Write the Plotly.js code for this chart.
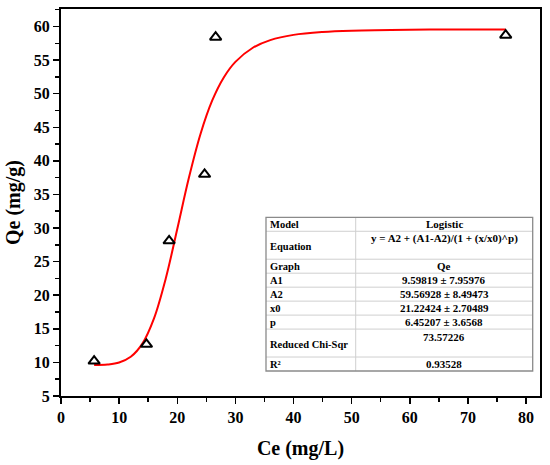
<!DOCTYPE html>
<html>
<head>
<meta charset="utf-8">
<script src="https://cdn.plot.ly/plotly-3.0.1.min.js"></script>
<style>html,body{margin:0;padding:0;background:#fff;}#chart{width:550px;height:465px;}</style>
</head>
<body>
<div id="chart"></div>
<script>
var ceData = [5.7, 14.7, 18.6, 24.7, 26.6, 76.5];
var qeData = [10.2, 12.7, 28.1, 38.0, 58.4, 58.7];

var ceFit = [5.7, 8, 10, 12, 14, 16, 18, 20, 22, 24, 26, 28, 30, 33, 36, 40, 45, 50, 60, 70, 76.5];
var qeFit = [9.61, 9.69, 9.98, 10.83, 12.79, 16.55, 22.42, 29.85, 37.47, 44.00, 48.95, 52.41, 54.73, 56.83, 57.97, 58.75, 59.18, 59.37, 59.51, 59.55, 59.56];

// Fit table
var tableLabels = ["Model", "Equation", "Graph", "A1", "A2", "x0", "p", "Reduced Chi-Sqr", "R²"];
var tableValues = ["Logistic", "y = A2 + (A1-A2)/(1 + (x/x0)^p)", "Qe", "9.59819 ± 7.95976", "59.56928 ± 8.49473", "21.22424 ± 2.70489", "6.45207 ± 3.6568", "73.57226", "0.93528"];
var rowUnits = [1, 2, 1, 1, 1, 1, 1, 2, 1];

var xTitle = "Ce (mg/L)";
var yTitle = "Qe (mg/g)";

var W = 550, H = 465, ML = 61, MR = 10, MT = 9, MB = 69;
var PW = W - ML - MR, PH = H - MT - MB;
function px(x) { return (x - ML) / PW; }
function py(y) { return (H - MB - y) / PH; }

var serif = "Liberation Serif, Times New Roman, serif";

var shapes = [], annotations = [];
(function buildTable() {
  var tL = 266, tR = 532.7, tT = 217.3, tB = 371, tD = 355.7;
  var totalUnits = rowUnits.reduce(function(a, b) { return a + b; }, 0);
  var unit = (tB - tT) / totalUnits;
  var yCur = tT;
  for (var i = 0; i < tableLabels.length; i++) {
    var h = rowUnits[i] * unit;
    var rTop = yCur, rBot = yCur + h;
    if (i > 0) {
      shapes.push({type: 'line', xref: 'paper', yref: 'paper', x0: px(tL), x1: px(tR), y0: py(rTop), y1: py(rTop),
        line: {color: '#cfcfcf', width: 1}});
    }
    var labelY = (rTop + rBot) / 2 + (rowUnits[i] > 1 ? 1 : 0);
    var valueY = rowUnits[i] > 1 ? rTop + 7.5 : (rTop + rBot) / 2;
    annotations.push({xref: 'paper', yref: 'paper', x: px(tL + 2), y: py(labelY), text: tableLabels[i],
      showarrow: false, xanchor: 'left', yanchor: 'middle', font: {family: serif, size: 10.5, color: '#000', weight: 'bold'}});
    annotations.push({xref: 'paper', yref: 'paper', x: px((tD + tR) / 2), y: py(valueY), text: tableValues[i],
      showarrow: false, xanchor: 'center', yanchor: 'middle', font: {family: serif, size: 11, color: '#000', weight: 'bold'}});
    yCur = rBot;
  }
  shapes.push({type: 'line', xref: 'paper', yref: 'paper', x0: px(tD), x1: px(tD), y0: py(tT), y1: py(tB),
    line: {color: '#cfcfcf', width: 1}});
  shapes.push({type: 'rect', xref: 'paper', yref: 'paper', x0: px(tL), x1: px(tR), y0: py(tB), y1: py(tT),
    line: {color: '#8a8a8a', width: 1.3}, fillcolor: 'rgba(0,0,0,0)'});
})();

var traces = [
  {x: ceFit, y: qeFit, type: 'scatter', mode: 'lines', line: {color: '#ff0000', width: 2, shape: 'spline'},
   hoverinfo: 'skip', showlegend: false},
  {x: ceData, y: qeData, type: 'scatter', mode: 'markers',
   marker: {symbol: 'triangle-up-open', size: 10, color: '#000', line: {width: 2, color: '#000'}},
   showlegend: false}
];

var axisCommon = {
  showgrid: false, zeroline: false, showline: true, linecolor: '#000', linewidth: 2, mirror: true,
  ticks: 'outside', ticklen: 6, tickwidth: 1.5, tickcolor: '#000',
  tickfont: {family: serif, size: 16, color: '#000', weight: 'bold'}
};

var layout = {
  width: W, height: H,
  margin: {l: ML, r: MR, t: MT, b: MB},
  paper_bgcolor: '#fff', plot_bgcolor: '#fff',
  xaxis: Object.assign({}, axisCommon, {
    range: [0, 82.4], tickvals: [0, 10, 20, 30, 40, 50, 60, 70, 80], ticktext: ['0','10','20','30','40','50','60','70','80'],
    minor: {tickvals: [5, 15, 25, 35, 45, 55, 65, 75], ticks: 'outside', ticklen: 4, tickwidth: 1.5, tickcolor: '#000'},
    title: {text: xTitle, font: {family: serif, size: 20, color: '#000', weight: 'bold'}, standoff: 16}
  }),
  yaxis: Object.assign({}, axisCommon, {
    range: [5, 62.6], tickvals: [5, 10, 15, 20, 25, 30, 35, 40, 45, 50, 55, 60],
    ticktext: ['5','10','15','20','25','30','35','40','45','50','55','60'],
    minor: {tickvals: [7.5, 12.5, 17.5, 22.5, 27.5, 32.5, 37.5, 42.5, 47.5, 52.5, 57.5, 62.5], ticks: 'outside', ticklen: 4, tickwidth: 1.5, tickcolor: '#000'},
    title: {text: yTitle, font: {family: serif, size: 20, color: '#000', weight: 'bold'}, standoff: 8}
  }),
  shapes: shapes,
  annotations: annotations
};

Plotly.newPlot('chart', traces, layout, {displayModeBar: false, staticPlot: true});
</script>
</body>
</html>
